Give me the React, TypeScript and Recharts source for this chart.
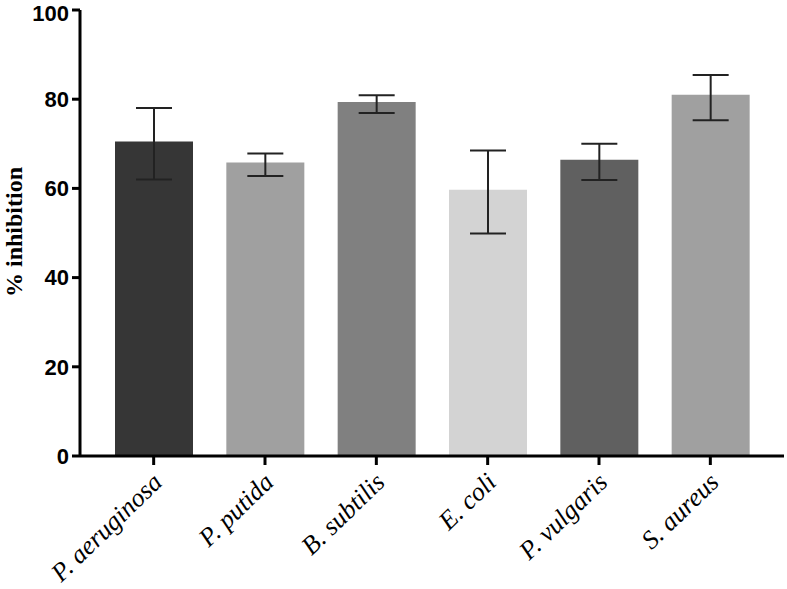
import { BarChart, Bar, XAxis, YAxis, Cell, ErrorBar } from "recharts";

const species = ["P. aeruginosa", "P. putida", "B. subtilis", "E. coli", "P. vulgaris", "S. aureus"];
const inhibition = [70.5, 65.8, 79.4, 59.7, 66.4, 81.0];
const errLow = [8.5, 3.0, 2.5, 9.8, 4.5, 5.7];
const errHigh = [7.5, 2.0, 1.5, 8.8, 3.6, 4.4];
const barColors = ["#363636", "#a0a0a0", "#808080", "#d3d3d3", "#606060", "#a0a0a0"];
const yTicks = [0, 20, 40, 60, 80, 100];

const data = species.map((name, i) => ({
  name,
  value: inhibition[i],
  err: [errLow[i], errHigh[i]],
}));

const SpeciesTick = (props: any) => {
  const { x, y, payload } = props;
  return (
    <g transform={`translate(${x + 10},${y + 17})`}>
      <text
        textAnchor="end"
        transform="rotate(-44)"
        fontFamily="'Liberation Serif', serif"
        fontStyle="italic"
        fontSize={26}
        fill="#000"
      >
        {payload.value}
      </text>
    </g>
  );
};

const YLabel = () => (
  <text
    x={22}
    y={232}
    transform="rotate(-90, 22, 232)"
    textAnchor="middle"
    fontFamily="'Liberation Serif', serif"
    fontWeight="bold"
    fontSize={24}
    fill="#000"
  >
    % inhibition
  </text>
);

export default function App() {
  return (
    <div style={{ position: "absolute", left: 0, top: 0, background: "#fff" }}>
      <BarChart
        width={787}
        height={589}
        data={data}
        margin={{ top: 10, right: 3, bottom: 0, left: 0 }}
        barSize={78}
      >
        <XAxis
          dataKey="name"
          height={133}
          padding={{ left: 18, right: 18 }}
          axisLine={{ stroke: "#000", strokeWidth: 3 }}
          tickLine={{ stroke: "#000", strokeWidth: 3 }}
          tickSize={9}
          interval={0}
          tick={<SpeciesTick />}
        />
        <YAxis
          width={80}
          domain={[0, 100]}
          ticks={yTicks}
          axisLine={{ stroke: "#000", strokeWidth: 3 }}
          tickLine={{ stroke: "#000", strokeWidth: 3 }}
          tickSize={8}
          tickMargin={3}
          tick={{
            fill: "#000",
            fontSize: 22,
            fontWeight: "bold",
            fontFamily: "'Liberation Sans', Arial, sans-serif",
          }}
          label={{ content: <YLabel /> }}
        />
        <Bar dataKey="value" isAnimationActive={false}>
          {data.map((d, i) => (
            <Cell key={d.name} fill={barColors[i]} />
          ))}
          <ErrorBar dataKey="err" width={18} stroke="#222" strokeWidth={2} direction="y" />
        </Bar>
      </BarChart>
    </div>
  );
}
